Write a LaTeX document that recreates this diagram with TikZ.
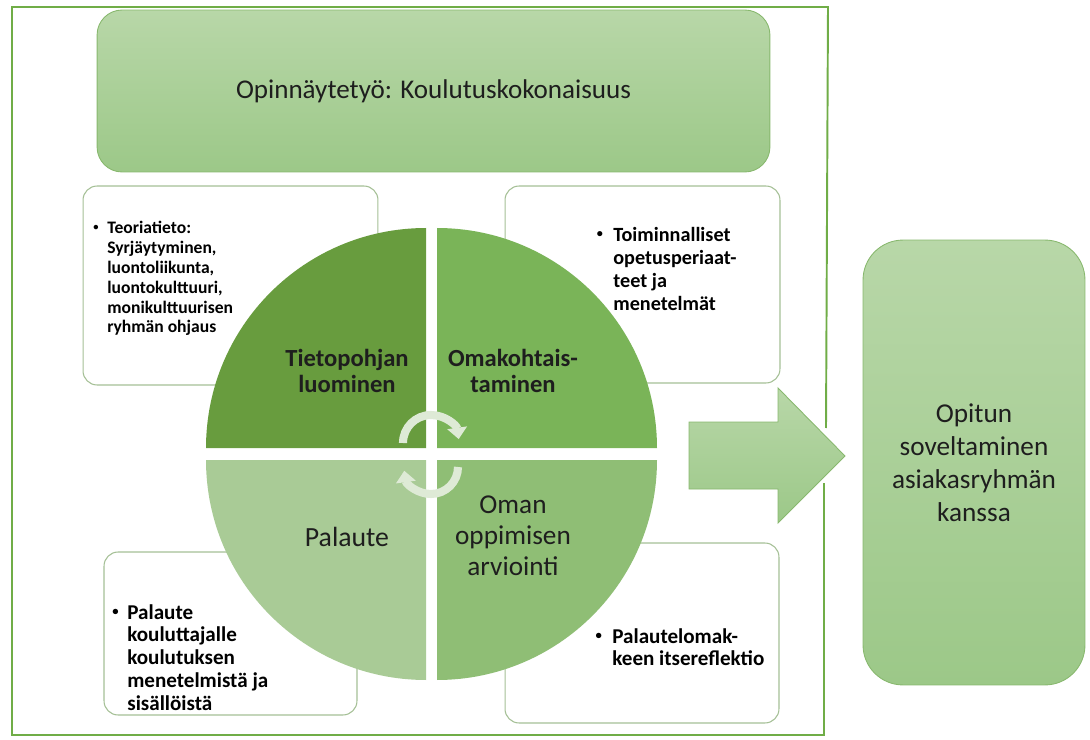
\documentclass[tikz,border=0pt]{standalone}
\usepackage{graphicx}
\usepackage{fontspec}
\setmainfont{Carlito}
\usetikzlibrary{arrows.meta,positioning}

\definecolor{frameGreen}{RGB}{112,173,71}
\definecolor{lightTop}{RGB}{184,215,168}
\definecolor{lightBot}{RGB}{156,200,136}
\definecolor{shapeLine}{RGB}{136,184,110}
\definecolor{boxLine}{RGB}{165,192,150}
\definecolor{qTL}{RGB}{104,156,62}
\definecolor{qTR}{RGB}{122,180,88}
\definecolor{qBR}{RGB}{143,190,117}
\definecolor{qBL}{RGB}{169,203,150}
\definecolor{cycleLight}{RGB}{222,234,214}
\definecolor{inkDark}{RGB}{30,30,30}

\newcommand{\dotmark}[1]{\llap{\raisebox{0.18em}{\scalebox{0.6}{\textbullet}}\hspace{#1}}}

\tikzset{
  greenshape/.style={draw=shapeLine, line width=0.5pt, top color=lightTop, bottom color=lightBot},
  notebox/.style={draw=boxLine, line width=0.6pt, fill=white, rounded corners=8pt, inner sep=0pt},
  notetext/.style={anchor=north west, inner sep=0pt, align=left},
  quadlabel/.style={inner sep=0pt, align=center, text=inkDark},
  cyclearrow/.style={draw=cycleLight, line width=4.6pt, -{Triangle[width=11pt,length=6.5pt]}}
}

\begin{document}
\begin{tikzpicture}[x=0.02cm, y=-0.02cm]
  \useasboundingbox (0,0) rectangle (1090,740);

  % Frame
  \draw[frameGreen, line width=1.1pt] (826,428) -- (828,7) -- (12,7) -- (12,735) -- (824,735) -- (824,483);

  % Banner
  \node[greenshape, rounded corners=0.5cm, minimum width=13.46cm, minimum height=3.24cm, inner sep=0pt,
        text=inkDark, font=\fontsize{15.4}{18}\selectfont] (banner) at (433.5,91) {Opinnäytetyö: Koulutuskokonaisuus};

  % Note boxes
  \node[notebox, minimum width=5.9cm, minimum height=3.98cm] (boxTL) at (230.5,285.5) {};
  \node[notebox, minimum width=5.5cm, minimum height=3.94cm] (boxTR) at (642.5,284.5) {};
  \node[notebox, minimum width=5.06cm, minimum height=3.26cm] (boxBL) at (230.5,633.5) {};
  \node[notebox, minimum width=5.48cm, minimum height=3.6cm] (boxBR) at (642,633) {};

  % Quadrants
  \foreach \cx/\cy/\a/\col in {426/448/180/qTL, 437/448/270/qTR, 437/460/0/qBR, 426/460/90/qBL}
    \fill[\col] (\cx,\cy) -- ++(\a:220) arc[start angle=\a, end angle=\a+90, radius=220] -- cycle;

  % Cycle arrows
  \draw[cyclearrow] (403,443) arc[start angle=180, end angle=352, radius=28];
  \draw[cyclearrow] (458,467) arc[start angle=0, end angle=172, radius=27];

  % Quadrant labels
  \node[quadlabel, font=\fontsize{14}{14.7}\selectfont\bfseries] (know) at (347,371) {Tietopohjan\\luominen};
  \node[quadlabel, font=\fontsize{14}{14.7}\selectfont\bfseries] (own) at (513,371) {Omakohtais-\\taminen};
  \node[quadlabel, font=\fontsize{15.8}{17.6}\selectfont] (feedback) at (347,537) {Palaute};
  \node[quadlabel, font=\fontsize{15.5}{17.6}\selectfont] (assess) at (513,536) {Oman\\oppimisen\\arviointi};

  % Box texts
  \node[notetext, font=\fontsize{10}{11.3}\selectfont\bfseries] (theory) at (107,221)
    {\dotmark{5pt}Teoriatieto:\\Syrjäytyminen,\\luontoliikunta,\\luontokulttuuri,\\monikulttuurisen\\ryhmän ohjaus};
  \node[notetext, font=\fontsize{11.5}{13}\selectfont\bfseries] (methods) at (613,227)
    {\dotmark{6pt}Toiminnalliset\\opetusperiaat-\\teet ja\\menetelmät};
  \node[notetext, font=\fontsize{12}{13}\selectfont\bfseries] (trainer) at (127,604)
    {\dotmark{5pt}Palaute\\kouluttajalle\\koulutuksen\\menetelmistä ja\\sisällöistä};
  \node[notetext, font=\fontsize{12}{13}\selectfont\bfseries] (reflect) at (612,628)
    {\dotmark{6pt}Palautelomak-\\keen itsereflektio};

  % Block arrow
  \shade[greenshape] (689,422) -- (778,422) -- (778,388) -- (845,456) -- (778,523) -- (778,489) -- (689,489) -- cycle;

  % Application box
  \node[greenshape, rounded corners=0.8cm, minimum width=4.44cm, minimum height=8.9cm, inner sep=0pt,
        align=center, text=inkDark, font=\fontsize{15.5}{18.7}\selectfont] (apply) at (974,462.5)
    {Opitun\\soveltaminen\\asiakasryhmän\\kanssa};
\end{tikzpicture}
\end{document}
